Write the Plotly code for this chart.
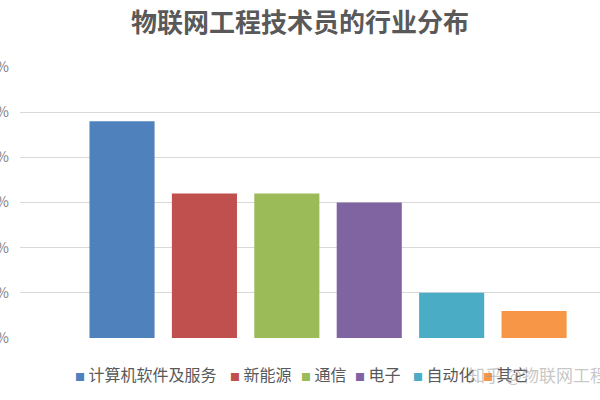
import plotly.graph_objects as go

categories = ["计算机软件及服务", "新能源", "通信", "电子", "自动化", "其它"]
values = [48, 32, 32, 30, 10, 6]
colors = ["#4F81BD", "#C0504D", "#9BBB59", "#8064A2", "#4BACC6", "#F79646"]
tick_vals = [0, 10, 20, 30, 40, 50, 60]
tick_text = [f"{v}%" for v in tick_vals]
legend_x_px = [73, 228, 299, 353, 411, 481]  # left edge of each legend entry (layout, not data)

font_family = "Noto Sans CJK SC, Noto Sans, sans-serif"
W, H = 600, 400
ML, MR, MT, MB = 20, 0, 67, 62

fig = go.Figure()
for i, (c, v, col) in enumerate(zip(categories, values, colors)):
    fig.add_trace(go.Bar(x=[i], y=[v], name=c, marker=dict(color=col, line=dict(width=0)),
                         width=0.79, showlegend=False,
                         hovertemplate=f"{c}: %{{y}}%<extra></extra>"))

annotations = []
plot_w = W - ML - MR
plot_h = H - MT - MB
leg_y = (H - MB - 374) / plot_h
for c, col, px in zip(categories, colors, legend_x_px):
    annotations.append(dict(
        text=f'<span style="color:{col};font-size:10px">■</span> {c}',
        xref="paper", yref="paper", x=(px - ML) / plot_w, y=leg_y,
        xanchor="left", yanchor="middle", showarrow=False,
        font=dict(family=font_family, size=16, color="#595959")))
annotations.append(dict(text="知乎 @物联网工程", xref="paper", yref="paper",
                        x=(466 - ML) / plot_w, y=leg_y, xanchor="left", yanchor="middle",
                        showarrow=False,
                        font=dict(family=font_family, size=17, color="rgba(150,150,150,0.55)")))

fig.update_layout(
    width=W, height=H,
    margin=dict(l=ML, r=MR, t=MT, b=MB, autoexpand=False),
    paper_bgcolor="white", plot_bgcolor="white",
    barmode="overlay",
    title=dict(text="<b>物联网工程技术员的行业分布</b>", x=0.5, xanchor="center", y=0.943, yanchor="middle",
               font=dict(family=font_family, size=26, color="#595959")),
    xaxis=dict(range=[-1.238, 5.80], showticklabels=False, showgrid=False, zeroline=False,
               showline=False, ticks="", automargin=False),
    yaxis=dict(range=[0, 60], tickvals=tick_vals, ticktext=tick_text, showgrid=True,
               gridcolor="#D9D9D9", gridwidth=1, zeroline=False, showline=False, ticks="",
               ticklabelstandoff=10, automargin=False,
               tickfont=dict(family=font_family, size=14, color="#7F7F7F")),
    showlegend=False,
    font=dict(family=font_family),
    annotations=annotations,
)

fig.write_html("out.html", config={"displayModeBar": False},
               post_script="document.body.style.margin='0';")
